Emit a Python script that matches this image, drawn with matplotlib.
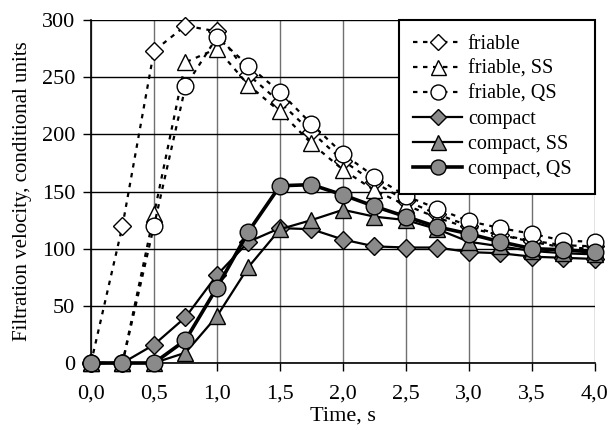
import matplotlib
matplotlib.use("Agg")
import matplotlib.pyplot as plt

time = [0.0, 0.25, 0.5, 0.75, 1.0, 1.25, 1.5, 1.75, 2.0, 2.25, 2.5, 2.75, 3.0, 3.25, 3.5, 3.75, 4.0]

friable = [0, 120, 273, 295, 290, 252, 228, 202, 177, 158, 142, 130, 120, 112, 107, 103, 102]
friable_ss = [0, 0, 130, 263, 275, 243, 220, 192, 169, 151, 138, 127, 118, 112, 106, 101, 100]
friable_qs = [0, 0, 120, 242, 285, 260, 237, 209, 183, 163, 146, 135, 124, 118, 113, 107, 106]

compact = [0, 0, 16, 40, 77, 106, 118, 117, 108, 102, 101, 101, 97, 96, 93, 92, 91]
compact_ss = [0, 0, 0, 9, 41, 84, 117, 125, 134, 128, 125, 117, 106, 102, 98, 96, 95]
compact_qs = [0, 0, 0, 20, 66, 115, 155, 156, 147, 137, 128, 119, 113, 106, 100, 99, 97]

xticks = [0.0, 0.5, 1.0, 1.5, 2.0, 2.5, 3.0, 3.5, 4.0]
xtick_labels = ["0,0", "0,5", "1,0", "1,5", "2,0", "2,5", "3,0", "3,5", "4,0"]
yticks = [0, 50, 100, 150, 200, 250, 300]

plt.rcParams['font.family'] = ['Liberation Serif', 'DejaVu Serif']

fig = plt.figure(figsize=(6.09, 4.30), dpi=100)
ax = fig.add_axes([0.1494, 0.1558, 0.8276, 0.7977])

gray = '#8a8a8a'
dash = (0, (2, 2.5))

# friable - dotted lines, white markers
ax.plot(time, friable, color='black', ls=dash, lw=1.6, marker='D', ms=9,
        mfc='white', mec='black', mew=1, label='friable', zorder=3, clip_on=False)
ax.plot(time, friable_ss, color='black', ls=dash, lw=1.6, marker='^', ms=12,
        mfc='white', mec='black', mew=1, label='friable, SS', zorder=3, clip_on=False)
ax.plot(time, friable_qs, color='black', ls=dash, lw=1.6, marker='o', ms=12,
        mfc='white', mec='black', mew=1, label='friable, QS', zorder=3, clip_on=False)

# compact - solid lines, gray markers
ax.plot(time, compact, color='black', lw=1.6, marker='D', ms=9,
        mfc=gray, mec='black', mew=1, label='compact', zorder=4, clip_on=False)
ax.plot(time, compact_ss, color='black', lw=1.6, marker='^', ms=12,
        mfc=gray, mec='black', mew=1, label='compact, SS', zorder=4, clip_on=False)
ax.plot(time, compact_qs, color='black', lw=2.6, marker='o', ms=12,
        mfc=gray, mec='black', mew=1, label='compact, QS', zorder=4, clip_on=False)

ax.set_xlim(0, 4)
ax.set_ylim(0, 300)
ax.set_xticks(xticks)
ax.set_xticklabels(xtick_labels)
ax.set_yticks(yticks)
ax.tick_params(direction='out', length=5.5, width=1, labelsize=16, colors='black')
ax.tick_params(axis='x', pad=10)
ax.tick_params(axis='y', pad=6)
ax.xaxis.grid(True, color='#707070', lw=1)
ax.yaxis.grid(True, color='black', lw=1)
ax.set_axisbelow(True)
for side in ['top', 'right']:
    ax.spines[side].set_visible(False)
ax.spines['left'].set_linewidth(1.2)
ax.spines['bottom'].set_linewidth(1.2)

ax.set_xlabel('Time, s', fontsize=16, labelpad=2)
ax.set_ylabel('Filtration velocity, conditional units', fontsize=15, labelpad=7)

leg = ax.legend(loc='upper right', bbox_to_anchor=(0.611, 0, 0.389, 1), mode='expand',
                fontsize=14.5, borderaxespad=0, fancybox=False,
                framealpha=1, edgecolor='black', handlelength=2.4, handletextpad=0.3,
                labelspacing=0.3, borderpad=0.72, markerscale=0.9)
leg.get_frame().set_linewidth(1.5)
leg.set_zorder(10)

fig.savefig('out.png', dpi=100)
